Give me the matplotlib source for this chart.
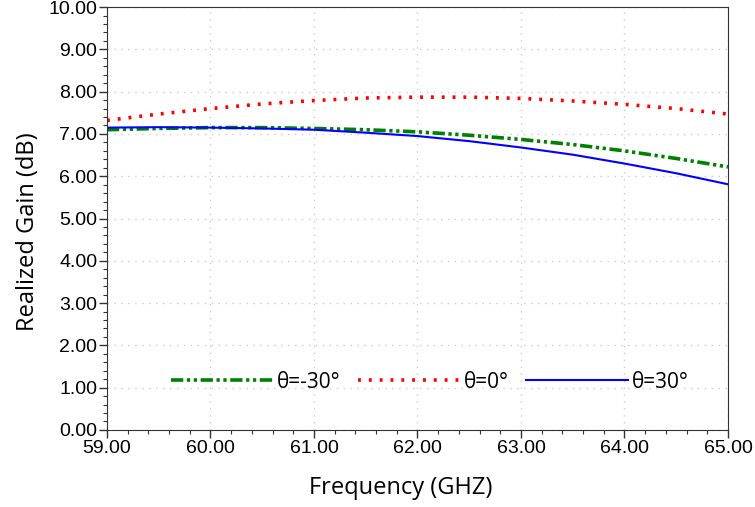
import matplotlib
matplotlib.use('Agg')
import matplotlib.pyplot as plt
from matplotlib.ticker import MultipleLocator, FormatStrFormatter

freq = [59.0, 59.5, 60.0, 60.5, 61.0, 61.5, 62.0, 62.5, 63.0, 63.5, 64.0, 64.5, 65.0]
gain_m30 = [7.10, 7.13, 7.15, 7.15, 7.13, 7.10, 7.05, 6.97, 6.87, 6.75, 6.60, 6.42, 6.22]
gain_0 = [7.32, 7.47, 7.60, 7.71, 7.79, 7.85, 7.87, 7.87, 7.84, 7.78, 7.70, 7.60, 7.47]
gain_30 = [7.15, 7.16, 7.15, 7.13, 7.10, 7.03, 6.95, 6.83, 6.68, 6.51, 6.30, 6.07, 5.81]

plt.rcParams['font.family'] = ['Liberation Sans', 'DejaVu Sans']

fig = plt.figure(figsize=(7.55, 5.07), dpi=100)
ax = fig.add_axes([0.1417, 0.152, 0.8225, 0.834])

ax.plot(freq, gain_m30, color='green', lw=2.6, dashes=(3.4, 1.0, 0.9, 1.0, 0.9, 1.0), label='θ=-30°')
ax.plot(freq, gain_0, color='red', lw=2.6, dashes=(0.8, 2.2), label='θ=0°')
ax.plot(freq, gain_30, color='blue', lw=1.5, label='θ=30°')

# Format plot.
ax.set_xlim(59, 65)
ax.set_ylim(0, 10)
ax.xaxis.set_major_locator(MultipleLocator(1))
ax.xaxis.set_minor_locator(MultipleLocator(0.2))
ax.yaxis.set_major_locator(MultipleLocator(1))
ax.yaxis.set_minor_locator(MultipleLocator(0.2))
ax.xaxis.set_major_formatter(FormatStrFormatter('%.2f'))
ax.yaxis.set_major_formatter(FormatStrFormatter('%.2f'))
ax.tick_params(axis='both', which='major', labelsize=14, length=6, width=1, color='#333333', pad=1)
ax.tick_params(axis='both', which='minor', length=3, width=0.8, color='#333333')
ax.grid(True, which='major', linestyle=(0, (1, 4)), color='#cccccc', lw=1)
for s in ax.spines.values():
    s.set_color('#333333')

ax.set_xlabel('Frequency (GHZ)', fontsize=17, family=['Open Sans', 'DejaVu Sans'])
ax.set_ylabel('Realized Gain (dB)', fontsize=17, family=['Open Sans', 'DejaVu Sans'])
ax.xaxis.set_label_coords(0.473, -0.137, transform=ax.transAxes)
ax.xaxis.label.set_va('center')
ax.yaxis.set_label_coords(-0.127, 0.47, transform=ax.transAxes)
ax.yaxis.label.set_va('center')

leg = ax.legend(loc='center', bbox_to_anchor=(0.52, 0.113), ncol=3, frameon=False,
                handlelength=4.9, handletextpad=0.2, columnspacing=0.8,
                prop={'family': ['Open Sans', 'DejaVu Sans'], 'size': 15})

fig.savefig('out.png', dpi=100)
